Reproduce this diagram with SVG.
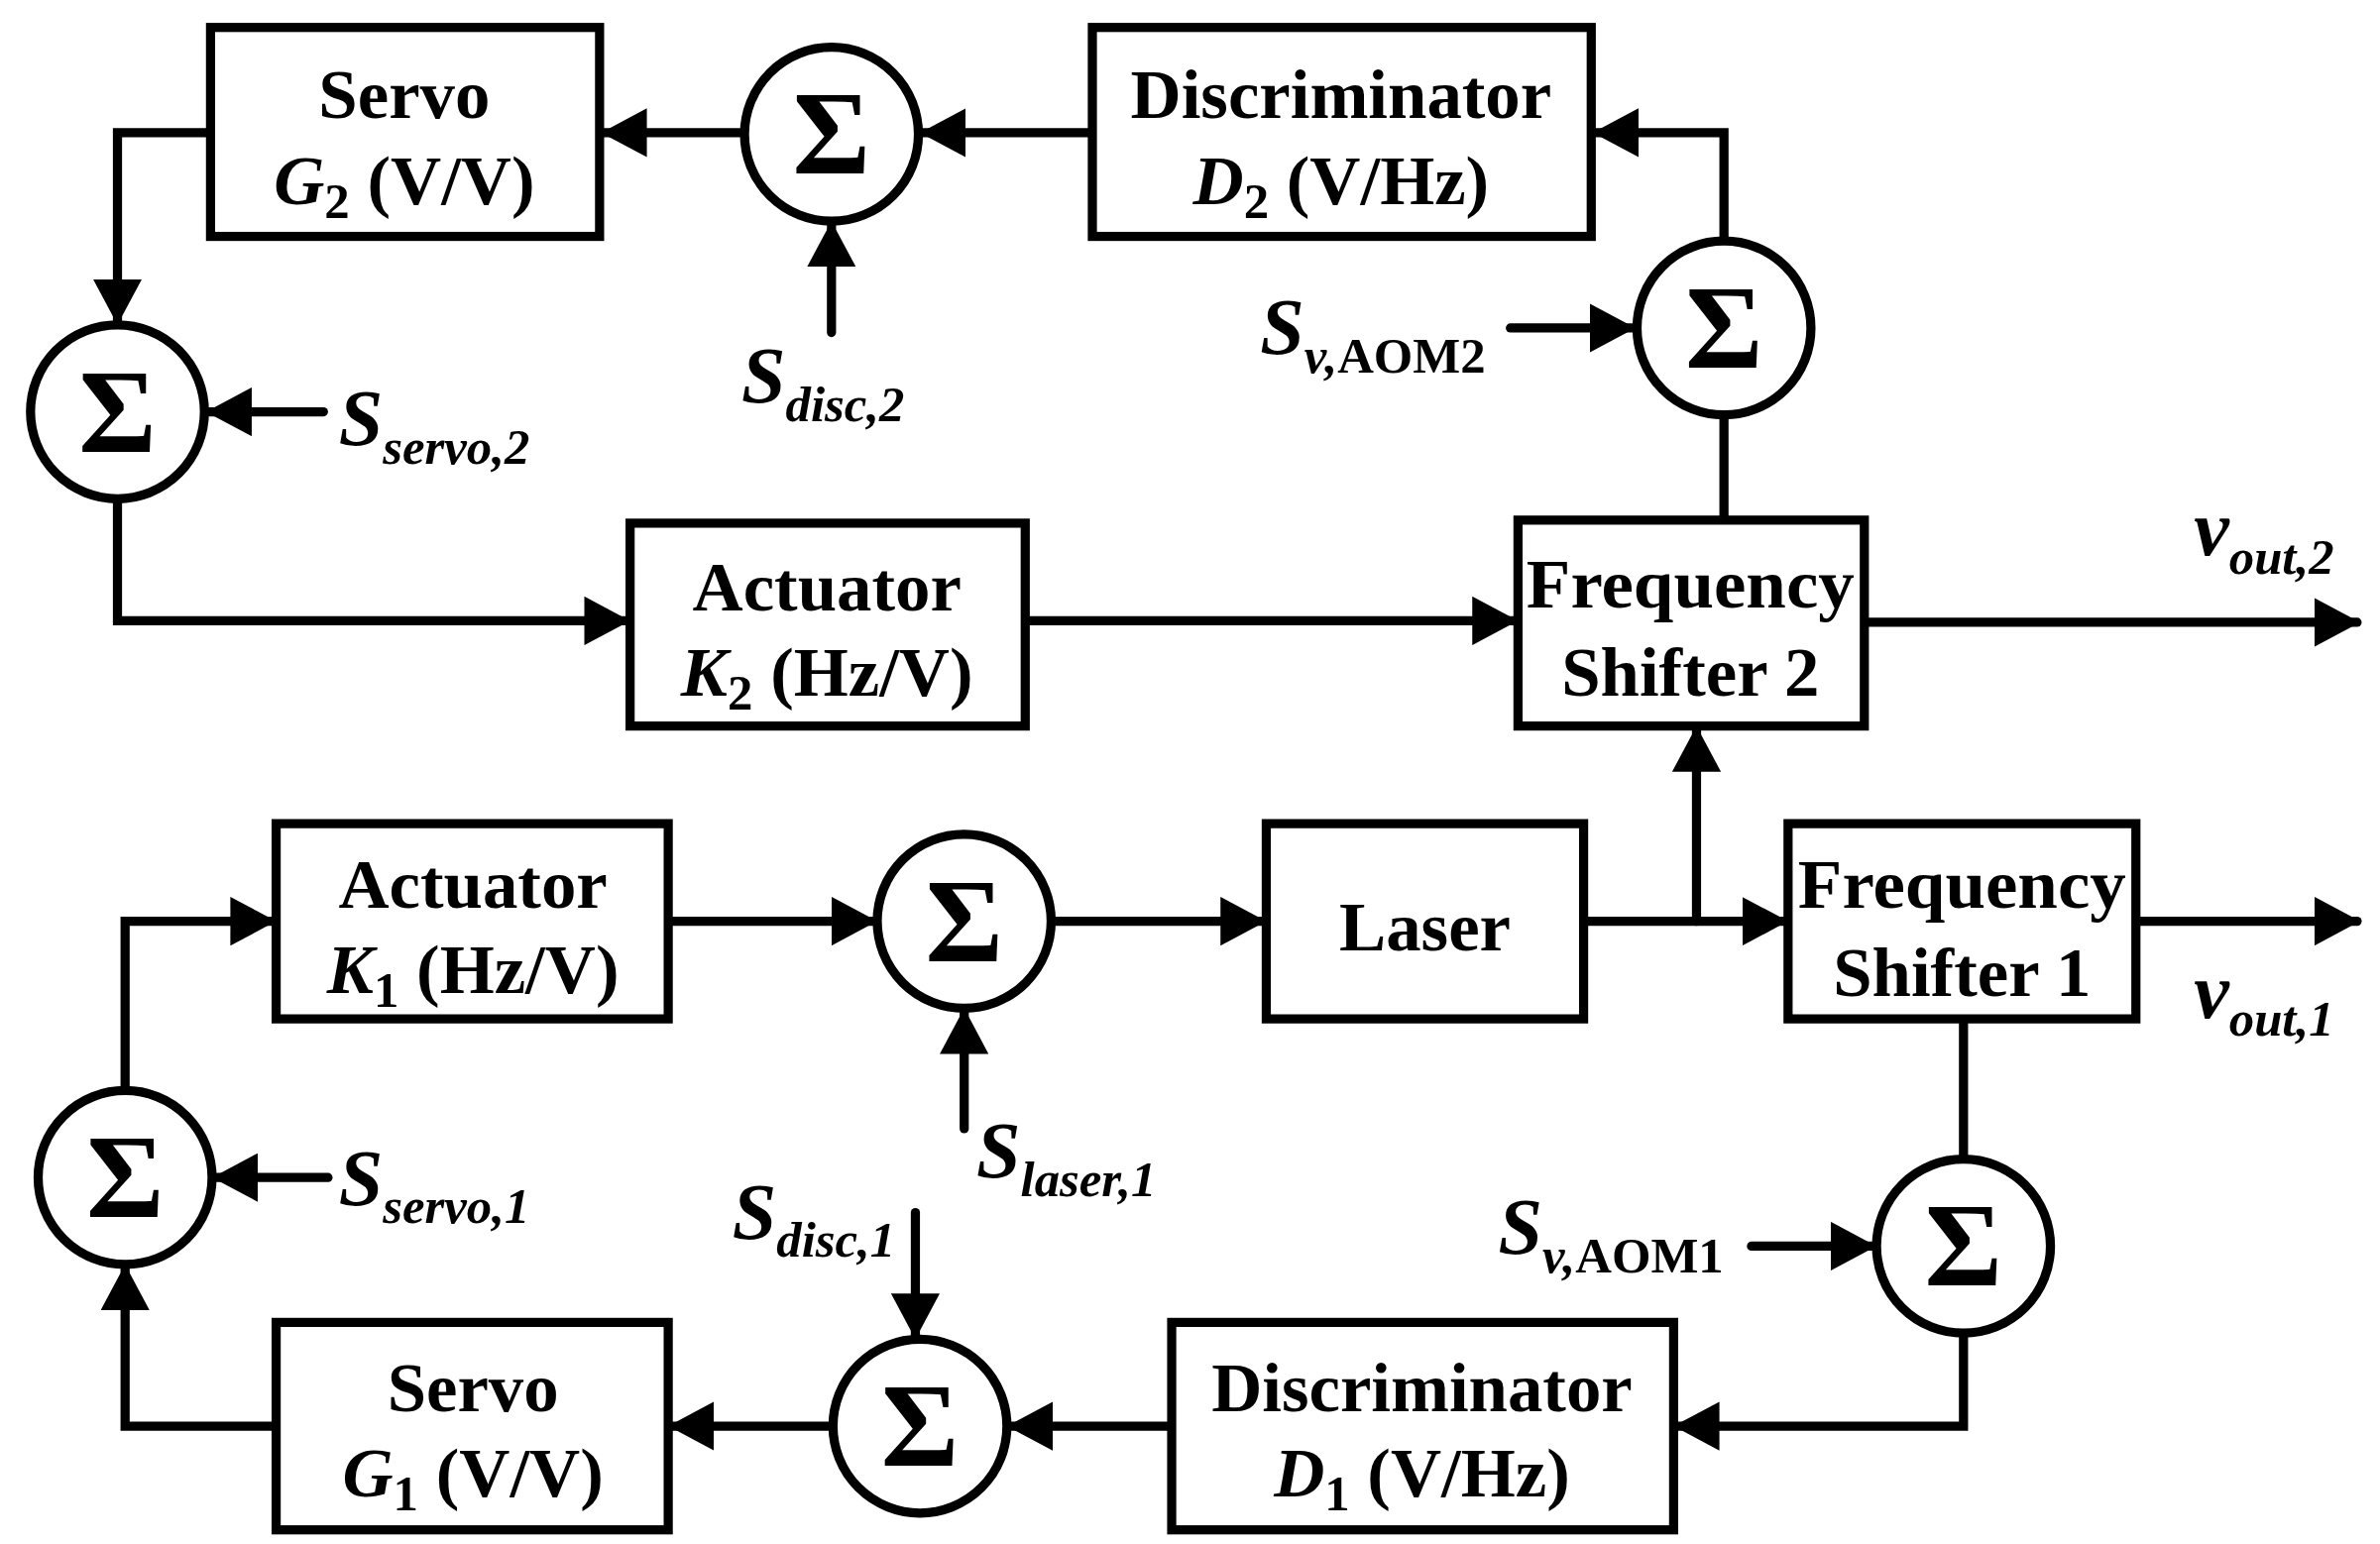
<svg xmlns="http://www.w3.org/2000/svg" width="2401" height="1558" viewBox="0 0 2401 1558">
<style>
.b{fill:#fff;stroke:#000;stroke-width:6}
.c{fill:none;stroke:#000;stroke-width:6;stroke-linecap:round}
.t{font-family:"Liberation Serif",serif;font-weight:bold;font-size:46px;text-anchor:middle}
.s{font-family:"Liberation Serif",serif;font-weight:bold;font-size:78px;text-anchor:middle}
.i{font-style:italic}
.l{font-family:"Liberation Serif",serif;font-weight:bold;font-style:italic;font-size:52px}
.sub{font-size:33px}
</style>
<defs>
<marker id="a" markerUnits="userSpaceOnUse" markerWidth="30" markerHeight="32" refX="28" refY="16" orient="auto"><path d="M0,0 L30,16 L0,32 z" fill="#000"/></marker>
</defs>
<rect width="2401" height="1558" fill="#fff"/>
<g transform="scale(1.5391)">
<g id="connectors" class="c">
<path d="M138,87 H77 V211" marker-end="url(#a)"/>
<path d="M488,87 H396" marker-end="url(#a)"/>
<path d="M716,87 H605" marker-end="url(#a)"/>
<path d="M1130,158 V87 H1046" marker-end="url(#a)"/>
<path d="M990,215 H1070" marker-end="url(#a)"/>
<path d="M545,218 V147" marker-end="url(#a)"/>
<path d="M212,270 H137" marker-end="url(#a)"/>
<path d="M77,327 V407 H411" marker-end="url(#a)"/>
<path d="M672,407 H993" marker-end="url(#a)"/>
<path d="M1130,341 V272"/>
<path d="M1222,408 H1545" marker-end="url(#a)"/>
<path d="M1038,604 H1170" marker-end="url(#a)"/>
<path d="M1112,604 V478" marker-end="url(#a)"/>
<path d="M1400,604 H1545" marker-end="url(#a)"/>
<path d="M82,715 V604 H179" marker-end="url(#a)"/>
<path d="M438,604 H573" marker-end="url(#a)"/>
<path d="M632,740 V663" marker-end="url(#a)"/>
<path d="M690,604 H828" marker-end="url(#a)"/>
<path d="M215,772 H141" marker-end="url(#a)"/>
<path d="M1287,668 V760"/>
<path d="M1148,817 H1228" marker-end="url(#a)"/>
<path d="M1287,874 V935 H1099" marker-end="url(#a)"/>
<path d="M768,935 H662" marker-end="url(#a)"/>
<path d="M600,795 V876" marker-end="url(#a)"/>
<path d="M546,935 H440" marker-end="url(#a)"/>
<path d="M181,935 H82 V831" marker-end="url(#a)"/>
</g>
<g id="servo2"><rect class="b" x="138" y="18" width="255" height="137"/><text class="t" x="265" y="77">Servo</text><text class="t" x="265" y="134"><tspan class="i">G</tspan><tspan class="sub" dy="9">2</tspan><tspan dy="-9"> (V/V)</tspan></text></g>
<g id="sum2a"><circle class="b" cx="545" cy="88" r="57"/><text class="s" x="545" y="114">Σ</text></g>
<g id="disc2"><rect class="b" x="716" y="18" width="327" height="137"/><text class="t" x="879" y="77">Discriminator</text><text class="t" x="879" y="134"><tspan class="i">D</tspan><tspan class="sub" dy="9">2</tspan><tspan dy="-9"> (V/Hz)</tspan></text></g>
<g id="sum2b"><circle class="b" cx="1130" cy="215" r="57"/><text class="s" x="1130" y="241">Σ</text></g>
<g id="sum2c"><circle class="b" cx="77" cy="270" r="57"/><text class="s" x="77" y="296">Σ</text></g>
<g id="act2"><rect class="b" x="413" y="343" width="259" height="133"/><text class="t" x="542" y="400">Actuator</text><text class="t" x="542" y="456"><tspan class="i">K</tspan><tspan class="sub" dy="9">2</tspan><tspan dy="-9"> (Hz/V)</tspan></text></g>
<g id="fs2"><rect class="b" x="995" y="341" width="227" height="135"/><text class="t" x="1108" y="398" textLength="215" lengthAdjust="spacingAndGlyphs">Frequency</text><text class="t" x="1108" y="456">Shifter 2</text></g>
<g id="act1"><rect class="b" x="181" y="540" width="257" height="128"/><text class="t" x="310" y="595">Actuator</text><text class="t" x="310" y="651"><tspan class="i">K</tspan><tspan class="sub" dy="9">1</tspan><tspan dy="-9"> (Hz/V)</tspan></text></g>
<g id="sum1a"><circle class="b" cx="632" cy="604" r="57"/><text class="s" x="632" y="630">Σ</text></g>
<g id="laser"><rect class="b" x="830" y="540" width="208" height="128"/><text class="t" x="934" y="623">Laser</text></g>
<g id="fs1"><rect class="b" x="1172" y="540" width="228" height="128"/><text class="t" x="1286" y="595" textLength="215" lengthAdjust="spacingAndGlyphs">Frequency</text><text class="t" x="1286" y="653">Shifter 1</text></g>
<g id="sum1b"><circle class="b" cx="82" cy="772" r="57"/><text class="s" x="82" y="798">Σ</text></g>
<g id="sum1c"><circle class="b" cx="1287" cy="817" r="57"/><text class="s" x="1287" y="843">Σ</text></g>
<g id="disc1"><rect class="b" x="768" y="867" width="329" height="136"/><text class="t" x="932" y="925">Discriminator</text><text class="t" x="932" y="981"><tspan class="i">D</tspan><tspan class="sub" dy="9">1</tspan><tspan dy="-9"> (V/Hz)</tspan></text></g>
<g id="sum1d"><circle class="b" cx="603" cy="935" r="57"/><text class="s" x="603" y="961">Σ</text></g>
<g id="servo1"><rect class="b" x="181" y="867" width="257" height="136"/><text class="t" x="310" y="925">Servo</text><text class="t" x="310" y="981"><tspan class="i">G</tspan><tspan class="sub" dy="9">1</tspan><tspan dy="-9"> (V/V)</tspan></text></g>
<g id="labels">
<text class="l" x="222" y="292">S<tspan class="sub" dy="12">servo,2</tspan></text>
<text class="l" x="486" y="264">S<tspan class="sub" dy="12">disc,2</tspan></text>
<text class="l" x="826" y="232">S<tspan class="sub" dy="12">v,</tspan><tspan class="sub" font-style="normal">AOM2</tspan></text>
<text class="l" x="1438" y="364">v<tspan class="sub" dy="12">out,2</tspan></text>
<text class="l" x="222" y="790">S<tspan class="sub" dy="12">servo,1</tspan></text>
<text class="l" x="640" y="772">S<tspan class="sub" dy="12">laser,1</tspan></text>
<text class="l" x="480" y="812">S<tspan class="sub" dy="12">disc,1</tspan></text>
<text class="l" x="982" y="822">S<tspan class="sub" dy="12">v,</tspan><tspan class="sub" font-style="normal">AOM1</tspan></text>
<text class="l" x="1438" y="667">v<tspan class="sub" dy="12">out,1</tspan></text>
</g>
</g>
</svg>
